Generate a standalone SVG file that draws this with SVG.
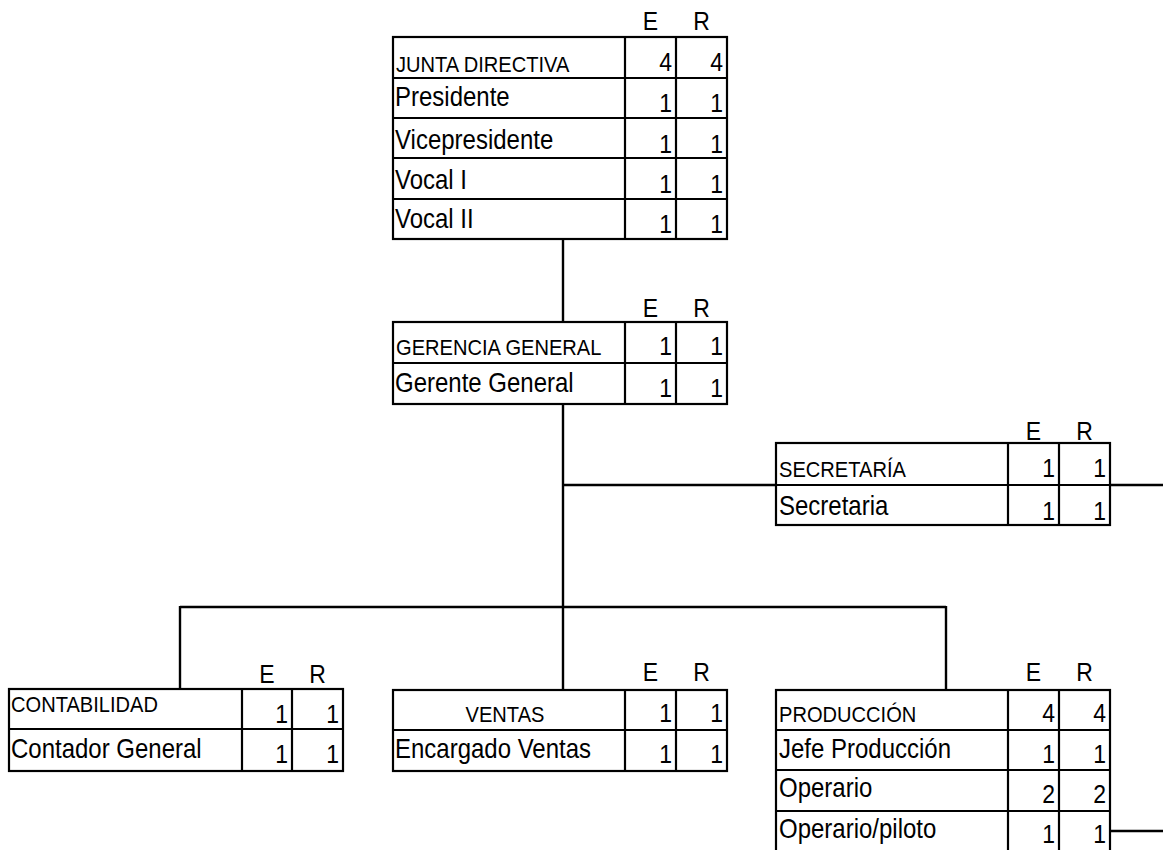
<svg xmlns="http://www.w3.org/2000/svg" width="1163" height="850" viewBox="0 0 1163 850">
<style>
  text { font-family: "Liberation Sans", Arial, sans-serif; fill: #000; }
  .lg { font-size: 24px; }
  .sm { font-size: 20.1px; }
  .num { font-size: 23px; text-anchor: end; }
  .hd { font-size: 23px; text-anchor: middle; }
  .mid { text-anchor: middle; }
  .box { fill: #fff; stroke: #000; stroke-width: 2.2; }
  .ln { stroke: #000; stroke-width: 2.2; fill: none; }
  .conn line { stroke: #000; stroke-width: 2.4; }
</style>
<rect width="1163" height="850" fill="#fff"/>

<g class="conn" id="connectors">
  <line x1="563" y1="239" x2="563" y2="322"/>
  <line x1="563" y1="404" x2="563" y2="690"/>
  <line x1="563" y1="485" x2="1163" y2="485"/>
  <line x1="180" y1="607" x2="946" y2="607"/>
  <line x1="180" y1="606" x2="180" y2="689"/>
  <line x1="946" y1="606" x2="946" y2="690"/>
  <line x1="1110" y1="831" x2="1163" y2="831"/>
</g>

<g id="junta-directiva">
  <rect class="box" x="393" y="37" width="334" height="202"/>
  <path class="ln" d="M625 37V239M676 37V239M393 78H727M393 118H727M393 158H727M393 199H727"/>
  <text class="hd" transform="translate(650.5,30) scale(1,1.15)">E</text>
  <text class="hd" transform="translate(701.5,30) scale(1,1.15)">R</text>
  <text class="sm" transform="translate(396,72) scale(1,1.12)">JUNTA DIRECTIVA</text>
  <text class="num" transform="translate(672,71) scale(1,1.15)">4</text>
  <text class="num" transform="translate(723,71) scale(1,1.15)">4</text>
  <text class="lg" transform="translate(395,106) scale(1,1.12)">Presidente</text>
  <text class="num" transform="translate(672,111.5) scale(1,1.15)">1</text>
  <text class="num" transform="translate(723,111.5) scale(1,1.15)">1</text>
  <text class="lg" transform="translate(395,149) scale(1,1.12)">Vicepresidente</text>
  <text class="num" transform="translate(672,152.5) scale(1,1.15)">1</text>
  <text class="num" transform="translate(723,152.5) scale(1,1.15)">1</text>
  <text class="lg" transform="translate(395,188.5) scale(1,1.12)">Vocal I</text>
  <text class="num" transform="translate(672,193) scale(1,1.15)">1</text>
  <text class="num" transform="translate(723,193) scale(1,1.15)">1</text>
  <text class="lg" transform="translate(395,228) scale(1,1.12)">Vocal II</text>
  <text class="num" transform="translate(672,233) scale(1,1.15)">1</text>
  <text class="num" transform="translate(723,233) scale(1,1.15)">1</text>
</g>

<g id="gerencia-general">
  <rect class="box" x="393" y="322" width="334" height="82"/>
  <path class="ln" d="M625 322V404M676 322V404M393 363H727"/>
  <text class="hd" transform="translate(650.5,317) scale(1,1.15)">E</text>
  <text class="hd" transform="translate(701.5,317) scale(1,1.15)">R</text>
  <text class="sm" transform="translate(396,355) scale(1,1.12)">GERENCIA GENERAL</text>
  <text class="num" transform="translate(672,355) scale(1,1.15)">1</text>
  <text class="num" transform="translate(723,355) scale(1,1.15)">1</text>
  <text class="lg" transform="translate(395,392) scale(1,1.12)">Gerente General</text>
  <text class="num" transform="translate(672,397) scale(1,1.15)">1</text>
  <text class="num" transform="translate(723,397) scale(1,1.15)">1</text>
</g>

<g id="secretaria">
  <rect class="box" x="776" y="443" width="334" height="82"/>
  <path class="ln" d="M1008 443V525M1059 443V525M776 485H1110"/>
  <text class="hd" transform="translate(1033.5,440) scale(1,1.15)">E</text>
  <text class="hd" transform="translate(1084.5,440) scale(1,1.15)">R</text>
  <text class="sm" transform="translate(779,477) scale(1,1.12)">SECRETARÍA</text>
  <text class="num" transform="translate(1055,477) scale(1,1.15)">1</text>
  <text class="num" transform="translate(1106,477) scale(1,1.15)">1</text>
  <text class="lg" transform="translate(779,515) scale(1,1.12)">Secretaria</text>
  <text class="num" transform="translate(1055,520) scale(1,1.15)">1</text>
  <text class="num" transform="translate(1106,520) scale(1,1.15)">1</text>
</g>

<g id="contabilidad">
  <rect class="box" x="9" y="689" width="334" height="82"/>
  <path class="ln" d="M242 689V771M292 689V771M9 729H343"/>
  <text class="hd" transform="translate(267,683) scale(1,1.15)">E</text>
  <text class="hd" transform="translate(317.5,683) scale(1,1.15)">R</text>
  <text class="sm" transform="translate(11,712) scale(1,1.12)">CONTABILIDAD</text>
  <text class="num" transform="translate(288,723) scale(1,1.15)">1</text>
  <text class="num" transform="translate(339,723) scale(1,1.15)">1</text>
  <text class="lg" transform="translate(11,758) scale(1,1.12)">Contador General</text>
  <text class="num" transform="translate(288,763) scale(1,1.15)">1</text>
  <text class="num" transform="translate(339,763) scale(1,1.15)">1</text>
</g>

<g id="ventas">
  <rect class="box" x="393" y="690" width="334" height="81"/>
  <path class="ln" d="M625 690V771M676 690V771M393 730H727"/>
  <text class="hd" transform="translate(650.5,681) scale(1,1.15)">E</text>
  <text class="hd" transform="translate(701.5,681) scale(1,1.15)">R</text>
  <text class="sm mid" transform="translate(505,722) scale(1,1.12)">VENTAS</text>
  <text class="num" transform="translate(672,722) scale(1,1.15)">1</text>
  <text class="num" transform="translate(723,722) scale(1,1.15)">1</text>
  <text class="lg" transform="translate(395,758) scale(1,1.12)">Encargado Ventas</text>
  <text class="num" transform="translate(672,763) scale(1,1.15)">1</text>
  <text class="num" transform="translate(723,763) scale(1,1.15)">1</text>
</g>

<g id="produccion">
  <rect class="box" x="776" y="690" width="334" height="170"/>
  <path class="ln" d="M1008 690V860M1059 690V860M776 730H1110M776 770H1110M776 811H1110"/>
  <text class="hd" transform="translate(1033.5,681) scale(1,1.15)">E</text>
  <text class="hd" transform="translate(1084.5,681) scale(1,1.15)">R</text>
  <text class="sm" transform="translate(779,722) scale(1,1.12)">PRODUCCIÓN</text>
  <text class="num" transform="translate(1055,722) scale(1,1.15)">4</text>
  <text class="num" transform="translate(1106,722) scale(1,1.15)">4</text>
  <text class="lg" transform="translate(779,758) scale(1,1.12)">Jefe Producción</text>
  <text class="num" transform="translate(1055,763) scale(1,1.15)">1</text>
  <text class="num" transform="translate(1106,763) scale(1,1.15)">1</text>
  <text class="lg" transform="translate(779,797) scale(1,1.12)">Operario</text>
  <text class="num" transform="translate(1055,803) scale(1,1.15)">2</text>
  <text class="num" transform="translate(1106,803) scale(1,1.15)">2</text>
  <text class="lg" transform="translate(779,838) scale(1,1.12)">Operario/piloto</text>
  <text class="num" transform="translate(1055,843) scale(1,1.15)">1</text>
  <text class="num" transform="translate(1106,843) scale(1,1.15)">1</text>
</g>
</svg>
